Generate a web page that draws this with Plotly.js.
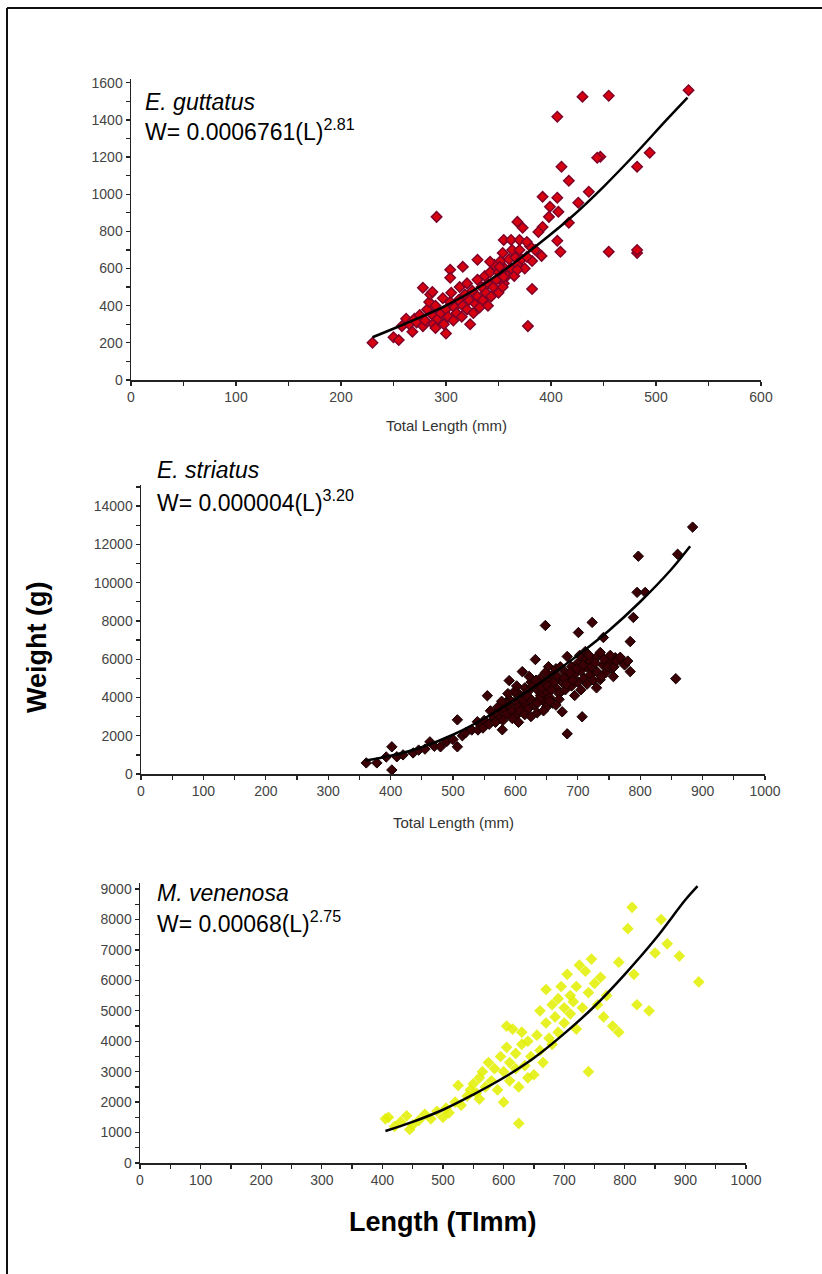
<!DOCTYPE html>
<html>
<head>
<meta charset="utf-8">
<script src="https://cdn.plot.ly/plotly-3.0.1.min.js"></script>
<style>html,body{margin:0;padding:0;background:#fff}#chart{width:822px;height:1274px}</style>
</head>
<body>
<div id="chart"></div>
<script>
// ---------- E. guttatus (top panel) ----------
const gutLen = [230,250,255,258,262,265,268,270,272,275,278,280,282,284,285,287,288,290,290,292,295,297,298,300,300,302,304,305,307,308,310,312,313,315,316,318,320,320,322,323,325,326,328,330,330,332,334,335,337,338,340,340,342,343,345,346,348,350,350,352,355,356,358,360,362,363,365,366,368,370,372,375,378,380,382,385,
  531,430,455,406,447,444,494,482,410,417,436,392,406,399,407,426,398,291,417,368,373,392,388,355,362,370,377,406,409,455,482,482,354,377,391,330,342,316,304,304,278,287,382,351,355,354,368];
const gutWt = [200,230,215,290,330,300,260,330,310,350,290,320,380,420,460,350,300,280,400,330,360,440,300,250,380,340,420,470,320,390,360,430,500,340,400,460,380,520,430,300,480,360,410,540,450,390,500,430,560,470,400,520,580,450,500,620,540,470,580,640,520,600,560,650,600,700,560,660,620,700,650,600,290,720,640,700,
  1560,1525,1530,1417,1202,1196,1223,1148,1148,1072,1013,986,981,932,905,954,878,878,846,851,819,824,797,754,754,754,743,749,690,690,684,700,684,663,668,647,636,609,593,550,496,474,490,609,555,501,593];
const gutCurveLen = [230,260,300,330,360,390,420,450,480,510,530];
const gutCurveWt  = [230,300,400,495,610,740,880,1040,1215,1400,1520];

// ---------- E. striatus (middle panel) ----------
const strLen = [361,378,393,402,402,410,420,436,445,455,463,470,480,490,500,507,507,515,520,530,539,545,550,555,560,565,570,575,579,580,585,590,590,595,600,600,605,605,610,611,615,615,620,620,625,625,630,632,635,635,640,640,645,645,648,650,650,653,655,655,660,660,665,665,670,670,675,675,680,680,683,683,685,690,690,695,695,700,700,701,705,705,707,710,710,715,715,720,720,723,725,725,730,730,736,736,740,741,745,750,755,757,760,773,784,784,789,795,797,808,857,860,884,
  590,598,602,608,612,618,622,628,633,638,642,648,652,658,662,668,672,678,682,688,692,698,703,708,712,718,722,728,732,738,742,748,752,758,762,768,775,780,580,585,595,605,615,625,635,645,655,665,540,548,558,568,572,578,588,560];
const strWt = [580,580,890,1420,210,900,1000,1100,1250,1300,1680,1450,1420,1700,1800,2830,1420,2000,2150,2300,2730,2500,2800,4090,2700,3000,3200,2900,2310,3400,3100,4880,3600,3300,3800,3000,4200,3500,4000,5350,3700,4500,3400,4300,3900,4800,3600,5980,4400,3200,4100,5000,3800,4700,7760,4300,3500,5610,4900,4000,5200,3700,4500,5500,4200,3900,3250,4800,5300,4400,2100,6140,5000,4600,5600,5200,4100,5800,4800,7390,5400,4400,2990,6000,5000,5600,4700,5900,5200,7920,5500,4900,6100,4500,6350,4930,5700,7130,5300,5800,5500,5090,6080,5820,6920,5350,8180,9490,11380,9490,4980,11480,12900,
  3900,4300,4600,3300,3900,4100,5100,4600,4900,3900,4500,5300,4600,4400,4800,5100,5600,5000,4700,5300,4900,5500,6200,5700,6400,6200,5600,5800,5300,5100,6000,5600,6200,5600,5900,6100,5700,5900,2800,3700,2900,2700,3100,3000,3700,3300,3800,3600,2300,2400,2600,2700,3500,3800,4200,3300];
const strCurveLen = [360,400,450,500,550,600,650,700,750,800,850,880];
const strCurveWt  = [700,950,1400,2050,2900,3900,5000,6200,7500,9000,10700,11900];

// ---------- M. venenosa (bottom panel) ----------
const venLen = [405,410,420,430,440,445,450,460,470,480,490,500,505,510,520,525,530,540,545,550,555,560,560,565,570,575,580,585,590,595,600,600,605,605,610,610,615,620,620,625,625,630,630,635,640,640,645,650,655,660,660,665,670,670,675,680,680,685,690,690,695,700,700,705,710,710,715,720,720,725,730,735,740,740,745,750,755,760,765,770,780,790,812,790,805,815,820,840,850,860,870,890,922];
const venWt = [1450,1500,1200,1350,1550,1100,1250,1400,1600,1450,1700,1500,1800,1650,2000,2550,1900,2200,2400,2600,2300,2800,2100,3000,2500,3300,2700,3100,2400,3500,3000,2000,3800,4500,2700,3300,4400,3100,3600,1300,2500,3900,4300,3200,2800,4000,3500,2900,4200,3700,5000,3300,4600,5700,4100,5200,3900,4800,5400,4300,5800,5100,4600,6200,5500,4900,5300,5800,4400,6500,5100,6300,3000,5600,6700,5900,5200,6100,4800,5500,4500,6600,8400,4300,7700,6200,5200,5000,6900,8000,7200,6800,5950];
const venCurveLen = [405,450,500,550,600,650,700,750,800,850,900,920];
const venCurveWt  = [1050,1350,1750,2250,2800,3450,4250,5150,6200,7350,8650,9100];

// ---------- labels ----------
const species = ['E. guttatus','E. striatus','M. venenosa'];
const coefText = ['W= 0.0006761(L)','W= 0.000004(L)','W= 0.00068(L)'];
const expText = ['2.81','3.20','2.75'];
const smallXTitle = 'Total Length (mm)';
const bottomXTitle = 'Length (TImm)';
const yTitle = 'Weight (g)';

// ---------- geometry (pixels) ----------
const W = 822, H = 1274;
const fx = p => p / W, fy = p => 1 - p / H;

const tickFont = {family: 'Liberation Sans Narrow, Arial Narrow, Liberation Sans, Arial, sans-serif', size: 14, color: '#444'};
function axisBase(range, dtick, anchor, dom, side) {
  return {domain: dom, range: range, anchor: anchor, showline: true, linecolor: '#222', linewidth: 1.5,
    ticks: side, ticklen: 4, tickwidth: 1.3, tickcolor: '#222', dtick: dtick, tick0: 0,
    minor: {dtick: dtick / 2, ticks: side, ticklen: 4, tickwidth: 1.3, tickcolor: '#222', showgrid: false},
    showgrid: false, zeroline: false, tickfont: tickFont, tickformat: 'd', fixedrange: true};
}
function xa(l, r, range, dtick, anchor) { return axisBase(range, dtick, anchor, [fx(l), fx(r)], 'outside'); }
function ya(b, t, range, dtick, anchor) { return axisBase(range, dtick, anchor, [fy(b), fy(t)], 'outside'); }
// inner half of the crossing tick marks
function inner(base, over) {
  const a = JSON.parse(JSON.stringify(base));
  a.ticks = 'inside'; a.minor.ticks = 'inside'; a.showticklabels = false; a.showline = false;
  a.overlaying = over; return a;
}

const traces = [
  {x: gutLen, y: gutWt, xaxis: 'x', yaxis: 'y', mode: 'markers', type: 'scatter',
   marker: {symbol: 'diamond', size: 8, color: '#d80010', line: {color: '#800028', width: 1.5}}},
  {x: gutCurveLen, y: gutCurveWt, xaxis: 'x', yaxis: 'y', mode: 'lines', type: 'scatter',
   line: {color: '#000', width: 2.5, shape: 'spline'}},
  {x: strLen, y: strWt, xaxis: 'x2', yaxis: 'y2', mode: 'markers', type: 'scatter',
   marker: {symbol: 'diamond', size: 8, color: '#3a0006', line: {color: '#140000', width: 1}}},
  {x: strCurveLen, y: strCurveWt, xaxis: 'x2', yaxis: 'y2', mode: 'lines', type: 'scatter',
   line: {color: '#000', width: 2.5, shape: 'spline'}},
  {x: venLen, y: venWt, xaxis: 'x3', yaxis: 'y3', mode: 'markers', type: 'scatter',
   marker: {symbol: 'diamond', size: 9, color: 'rgba(226,238,0,0.85)', line: {width: 0}}},
  {x: venCurveLen, y: venCurveWt, xaxis: 'x3', yaxis: 'y3', mode: 'lines', type: 'scatter',
   line: {color: '#000', width: 2.5, shape: 'spline'}}
];

const annFont = {family: 'Liberation Sans, Arial, sans-serif', size: 23, color: '#000'};
const titlePos = [[143, 102, 130], [155, 470, 501], [155, 893, 922]];
const annotations = [];
titlePos.forEach((p, i) => {
  annotations.push({xref: 'paper', yref: 'paper', x: fx(p[0]), y: fy(p[1]), xanchor: 'left', yanchor: 'middle',
    text: '<i>' + species[i] + '</i>', showarrow: false, font: annFont});
  annotations.push({xref: 'paper', yref: 'paper', x: fx(p[0]), y: fy(p[2]), xanchor: 'left', yanchor: 'middle',
    text: coefText[i] + '<sup>' + expText[i] + '</sup>', showarrow: false, font: annFont});
});
const smallTitleFont = {family: 'Liberation Sans, Arial, sans-serif', size: 15, color: '#333'};
annotations.push({xref: 'paper', yref: 'paper', x: fx(446), y: fy(425), xanchor: 'center', yanchor: 'middle',
  text: smallXTitle, showarrow: false, font: smallTitleFont});
annotations.push({xref: 'paper', yref: 'paper', x: fx(453), y: fy(822), xanchor: 'center', yanchor: 'middle',
  text: smallXTitle, showarrow: false, font: smallTitleFont});
const boldFont = {family: 'Liberation Sans, Arial, sans-serif', size: 27, color: '#000'};
annotations.push({xref: 'paper', yref: 'paper', x: fx(443), y: fy(1222), xanchor: 'center', yanchor: 'middle',
  text: '<b>' + bottomXTitle + '</b>', showarrow: false, font: boldFont});
annotations.push({xref: 'paper', yref: 'paper', x: fx(37), y: fy(648), xanchor: 'center', yanchor: 'middle',
  text: '<b>' + yTitle + '</b>', textangle: -90, showarrow: false, font: boldFont});

const xaxis  = xa(131, 761, [0, 600], 100, 'y');
const yaxis  = ya(380, 79, [0, 1620], 200, 'x');
const xaxis2 = xa(141, 765, [0, 1000], 100, 'y2');
const yaxis2 = ya(774, 485, [0, 15100], 2000, 'x2');
const xaxis3 = xa(140, 746, [0, 1000], 100, 'y3');
const yaxis3 = ya(1163, 883, [0, 9200], 1000, 'x3');

const layout = {
  width: W, height: H, margin: {l: 0, r: 0, t: 0, b: 0},
  paper_bgcolor: '#fff', plot_bgcolor: '#fff', showlegend: false,
  xaxis: xaxis, yaxis: yaxis, xaxis2: xaxis2, yaxis2: yaxis2, xaxis3: xaxis3, yaxis3: yaxis3,
  xaxis4: inner(xaxis, 'x'), yaxis4: inner(yaxis, 'y'),
  xaxis5: inner(xaxis2, 'x2'), yaxis5: inner(yaxis2, 'y2'),
  xaxis6: inner(xaxis3, 'x3'), yaxis6: inner(yaxis3, 'y3'),
  annotations: annotations,
  shapes: [
    {type: 'line', xref: 'paper', yref: 'paper', x0: fx(7), x1: fx(7), y0: 0, y1: fy(8), line: {color: '#111', width: 2}},
    {type: 'line', xref: 'paper', yref: 'paper', x0: fx(7), x1: 1, y0: fy(8), y1: fy(8), line: {color: '#111', width: 2}}
  ]
};

Plotly.newPlot('chart', traces, layout, {displayModeBar: false, staticPlot: true});
</script>
</body>
</html>
